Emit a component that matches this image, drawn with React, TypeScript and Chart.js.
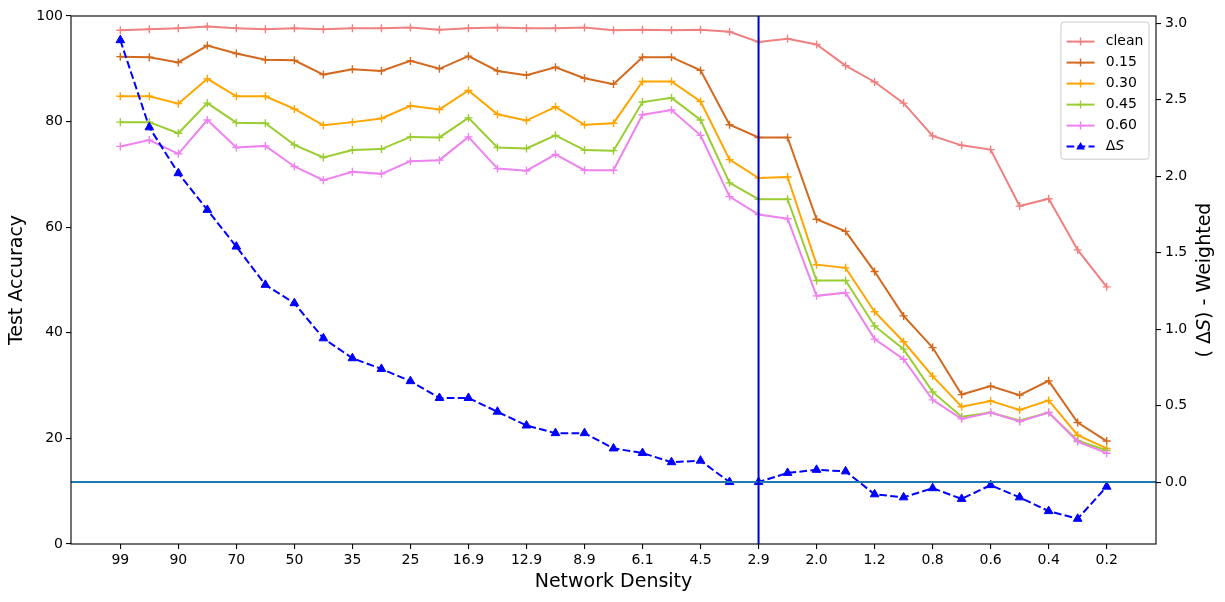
import { useEffect, useRef } from 'react';
import { Chart, registerables, Plugin } from 'chart.js';

Chart.register(...registerables);

// x tick labels (every other density step is labelled)
const densityTicks = ['99', '90', '70', '50', '35', '25', '16.9', '12.9', '8.9', '6.1', '4.5', '2.9', '2.0', '1.2', '0.8', '0.6', '0.4', '0.2'];

const clean = [97.3, 97.5, 97.7, 98.0, 97.7, 97.5, 97.7, 97.5, 97.7, 97.7, 97.8, 97.4, 97.7, 97.8, 97.7, 97.7, 97.8, 97.3, 97.4, 97.3, 97.4, 97.0, 95.1, 95.7, 94.6, 90.6, 87.5, 83.5, 77.3, 75.5, 74.7, 64.0, 65.4, 55.7, 48.7];
const noise15 = [92.3, 92.2, 91.2, 94.4, 92.9, 91.7, 91.6, 88.9, 89.9, 89.6, 91.5, 90.0, 92.4, 89.6, 88.8, 90.3, 88.2, 87.1, 92.2, 92.2, 89.7, 79.4, 77.0, 77.0, 61.5, 59.2, 51.6, 43.2, 37.2, 28.3, 29.9, 28.2, 30.9, 23.0, 19.5];
const noise30 = [84.8, 84.8, 83.4, 88.1, 84.8, 84.8, 82.4, 79.3, 79.9, 80.6, 83.0, 82.3, 85.9, 81.4, 80.2, 82.8, 79.4, 79.7, 87.6, 87.6, 83.8, 72.8, 69.3, 69.5, 52.9, 52.3, 44.0, 38.3, 31.8, 26.0, 27.1, 25.4, 27.2, 20.6, 18.1];
const noise45 = [79.9, 79.9, 77.8, 83.5, 79.8, 79.7, 75.6, 73.2, 74.6, 74.8, 77.1, 77.0, 80.7, 75.1, 74.9, 77.4, 74.6, 74.5, 83.7, 84.5, 80.3, 68.4, 65.3, 65.3, 49.9, 49.9, 41.3, 36.9, 28.8, 24.1, 24.9, 23.4, 24.9, 19.6, 17.7];
const noise60 = [75.3, 76.5, 73.9, 80.3, 75.1, 75.4, 71.5, 68.9, 70.5, 70.1, 72.5, 72.7, 77.1, 71.1, 70.7, 73.8, 70.8, 70.8, 81.3, 82.2, 77.4, 65.8, 62.4, 61.6, 47.0, 47.6, 38.8, 35.0, 27.3, 23.7, 24.9, 23.2, 24.9, 19.4, 17.2];
const deltaS = [2.89, 2.32, 2.02, 1.78, 1.54, 1.29, 1.17, 0.94, 0.81, 0.74, 0.66, 0.55, 0.55, 0.46, 0.37, 0.32, 0.32, 0.22, 0.19, 0.13, 0.14, 0.0, 0.0, 0.06, 0.08, 0.07, -0.08, -0.1, -0.04, -0.11, -0.02, -0.1, -0.19, -0.24, -0.03];

const accuracyTicks = [0, 20, 40, 60, 80, 100];
const deltaTicks = [0, 0.5, 1, 1.5, 2, 2.5, 3];
const markedIndex = 22; // vertical line at density 2.9
const xLimits = [-1.7, 35.7];
const deltaLimits = [-0.405, 3.048];

const seriesLabels = ['clean', '0.15', '0.30', '0.45', '0.60'];
const seriesValues = [clean, noise15, noise30, noise45, noise60];
const seriesColors = ['#f08080', '#d2691e', '#ffa500', '#9acd32', '#ee82ee'];

const FONT = 'DejaVu Sans';
const DASH = [7.7, 3.3];

function drawMarker(ctx: CanvasRenderingContext2D, kind: string, x: number, y: number, color: string) {
  ctx.save();
  ctx.strokeStyle = color;
  ctx.fillStyle = color;
  ctx.setLineDash([]);
  if (kind === 'cross') {
    ctx.lineWidth = 1.4;
    ctx.beginPath();
    ctx.moveTo(x - 4, y);
    ctx.lineTo(x + 4, y);
    ctx.moveTo(x, y - 4);
    ctx.lineTo(x, y + 4);
    ctx.stroke();
  } else {
    ctx.beginPath();
    ctx.moveTo(x, y - 4.5);
    ctx.lineTo(x + 4.3, y + 3);
    ctx.lineTo(x - 4.3, y + 3);
    ctx.closePath();
    ctx.fill();
  }
  ctx.restore();
}

const framePlugin: Plugin = {
  id: 'frame',
  afterDatasetsDraw(chart) {
    const { ctx, chartArea } = chart;
    ctx.save();
    ctx.strokeStyle = '#000';
    ctx.lineWidth = 1.1;
    ctx.strokeRect(chartArea.left, chartArea.top, chartArea.right - chartArea.left, chartArea.bottom - chartArea.top);
    ctx.restore();
  },
};

const legendPlugin: Plugin = {
  id: 'boxLegend',
  afterDraw(chart) {
    const { ctx, chartArea } = chart;
    const fs = 14;
    const entries = chart.data.datasets.filter((d: any) => d.inLegend);
    ctx.save();
    ctx.font = `${fs}px "${FONT}"`;
    const textW = Math.max(...entries.map((d: any) => ctx.measureText(d.label === 'dS' ? 'ΔS' : d.label).width));
    const pad = 0.4 * fs;
    const handle = 2 * fs;
    const gap = 0.8 * fs;
    const rowH = 1.5 * fs;
    const w = pad + handle + gap + textW + pad;
    const h = pad * 2 + entries.length * rowH - 0.5 * fs + 0.5 * fs;
    const right = chartArea.right - 7;
    const left = right - w;
    const top = chartArea.top + 6;
    ctx.beginPath();
    ctx.roundRect(left, top, w, h, 3);
    ctx.fillStyle = 'rgba(255,255,255,0.8)';
    ctx.fill();
    ctx.strokeStyle = '#cccccc';
    ctx.lineWidth = 1;
    ctx.stroke();

    entries.forEach((d: any, i: number) => {
      const cy = top + pad + 0.5 * fs + 0.5 * fs + i * rowH;
      const x0 = left + pad;
      const color = d.borderColor as string;
      ctx.save();
      ctx.strokeStyle = color;
      ctx.lineWidth = 2;
      ctx.setLineDash(d.borderDash || []);
      ctx.beginPath();
      ctx.moveTo(x0, cy);
      ctx.lineTo(x0 + handle, cy);
      ctx.stroke();
      ctx.restore();
      drawMarker(ctx, d.pointStyle, x0 + handle / 2, cy, color);

      ctx.fillStyle = '#000';
      ctx.textBaseline = 'middle';
      ctx.textAlign = 'left';
      const tx = x0 + handle + gap;
      if (d.label === 'dS') {
        ctx.font = `${fs}px "${FONT}"`;
        ctx.fillText('Δ', tx, cy);
        const dw = ctx.measureText('Δ').width;
        ctx.font = `italic ${fs}px "${FONT}"`;
        ctx.fillText('S', tx + dw, cy);
        ctx.font = `${fs}px "${FONT}"`;
      } else {
        ctx.fillText(d.label, tx, cy);
      }
    });
    ctx.restore();
  },
};

const rightTitlePlugin: Plugin = {
  id: 'rightTitle',
  afterDraw(chart) {
    const { ctx, chartArea } = chart;
    const fs = 19;
    const normal = `${fs}px "${FONT}"`;
    const italic = `italic ${fs}px "${FONT}"`;
    const parts: [string, string][] = [['( Δ', normal], ['S', italic], [') - Weighted', normal]];
    ctx.save();
    const widths = parts.map(([t, f]) => {
      ctx.font = f;
      return ctx.measureText(t).width;
    });
    const total = widths.reduce((a, b) => a + b, 0);
    ctx.translate(1205, (chartArea.top + chartArea.bottom) / 2);
    ctx.rotate(-Math.PI / 2);
    ctx.fillStyle = '#000';
    ctx.textBaseline = 'middle';
    ctx.textAlign = 'left';
    let x = -total / 2;
    parts.forEach(([t, f], i) => {
      ctx.font = f;
      ctx.fillText(t, x, 0);
      x += widths[i];
    });
    ctx.restore();
  },
};

export default function App() {
  const canvasRef = useRef<HTMLCanvasElement>(null);
  const chartRef = useRef<Chart | null>(null);

  useEffect(() => {
    document.body.style.margin = '0';
    if (!canvasRef.current) return;
    if (chartRef.current) chartRef.current.destroy();
    const ctx = canvasRef.current.getContext('2d');
    if (!ctx) return;

    const toPoints = (values: number[]) => values.map((y, i) => ({ x: i, y }));
    const tickFont = { family: FONT, size: 14 };
    const titleFont = { family: FONT, size: 19 };

    const accuracySets = seriesValues.map((values, i) => ({
      label: seriesLabels[i],
      data: toPoints(values),
      borderColor: seriesColors[i],
      backgroundColor: seriesColors[i],
      borderWidth: 2,
      pointStyle: 'cross',
      pointRadius: 4,
      pointBorderWidth: 1.4,
      pointBorderColor: seriesColors[i],
      tension: 0,
      yAxisID: 'y',
      order: 10 - i,
      inLegend: true,
    }));

    const chart = new Chart(ctx, {
      type: 'line',
      data: {
        datasets: [
          ...accuracySets,
          {
            label: 'dS',
            data: toPoints(deltaS),
            borderColor: '#0000ff',
            backgroundColor: '#0000ff',
            borderWidth: 2,
            borderDash: DASH,
            pointStyle: 'triangle',
            pointRadius: 5,
            pointBorderWidth: 1,
            pointBorderColor: '#0000ff',
            pointBackgroundColor: '#0000ff',
            yAxisID: 'y2',
            order: 2,
            inLegend: true,
          },
          {
            label: 'zero',
            data: [{ x: xLimits[0], y: 0 }, { x: xLimits[1], y: 0 }],
            borderColor: '#1f77b4',
            borderWidth: 2,
            pointRadius: 0,
            yAxisID: 'y2',
            order: 1,
          },
          {
            label: 'mark',
            data: [{ x: markedIndex, y: 0 }, { x: markedIndex, y: 100 }],
            borderColor: '#0000cd',
            borderWidth: 2,
            pointRadius: 0,
            yAxisID: 'y',
            order: 0,
          },
        ] as any,
      },
      options: {
        animation: false,
        responsive: false,
        events: [],
        layout: { padding: { top: 16, left: 0, right: 0, bottom: 0 } },
        plugins: {
          legend: { display: false },
          tooltip: { enabled: false },
        },
        scales: {
          x: {
            type: 'linear',
            min: xLimits[0],
            max: xLimits[1],
            afterBuildTicks: (axis: any) => {
              axis.ticks = densityTicks.map((_, i) => ({ value: i * 2 }));
            },
            afterFit: (axis: any) => {
              axis.height = 58;
            },
            ticks: {
              autoSkip: false,
              maxRotation: 0,
              color: '#000',
              font: tickFont,
              padding: 3,
              callback: (_v: any, i: number) => densityTicks[i],
            },
            grid: { drawOnChartArea: false, drawTicks: true, tickLength: 5, color: '#000', lineWidth: 1.1 },
            border: { display: false },
            title: { display: true, text: 'Network Density', color: '#000', font: titleFont, padding: { top: 0, bottom: 9 } },
          },
          y: {
            type: 'linear',
            position: 'left',
            min: 0,
            max: 100,
            afterBuildTicks: (axis: any) => {
              axis.ticks = accuracyTicks.map((value) => ({ value }));
            },
            afterFit: (axis: any) => {
              axis.width = 71;
            },
            ticks: { color: '#000', font: tickFont, padding: 3 },
            grid: { drawOnChartArea: false, drawTicks: true, tickLength: 5, color: '#000', lineWidth: 1.1 },
            border: { display: false },
            title: { display: true, text: 'Test Accuracy', color: '#000', font: titleFont, padding: { top: 6, bottom: 0 } },
          },
          y2: {
            type: 'linear',
            position: 'right',
            min: deltaLimits[0],
            max: deltaLimits[1],
            afterBuildTicks: (axis: any) => {
              axis.ticks = deltaTicks.map((value) => ({ value }));
            },
            afterFit: (axis: any) => {
              axis.width = 69;
            },
            ticks: {
              color: '#000',
              font: tickFont,
              padding: 4,
              callback: (v: any) => Number(v).toFixed(1),
            },
            grid: { drawOnChartArea: false, drawTicks: true, tickLength: 5, color: '#000', lineWidth: 1.1 },
            border: { display: false },
          },
        },
      },
      plugins: [framePlugin, legendPlugin, rightTitlePlugin],
    });
    chartRef.current = chart;

    return () => {
      chart.destroy();
      chartRef.current = null;
    };
  }, []);

  return (
    <div style={{ width: 1225, height: 602, background: '#fff' }}>
      <canvas ref={canvasRef} width={1225} height={602}></canvas>
    </div>
  );
}
